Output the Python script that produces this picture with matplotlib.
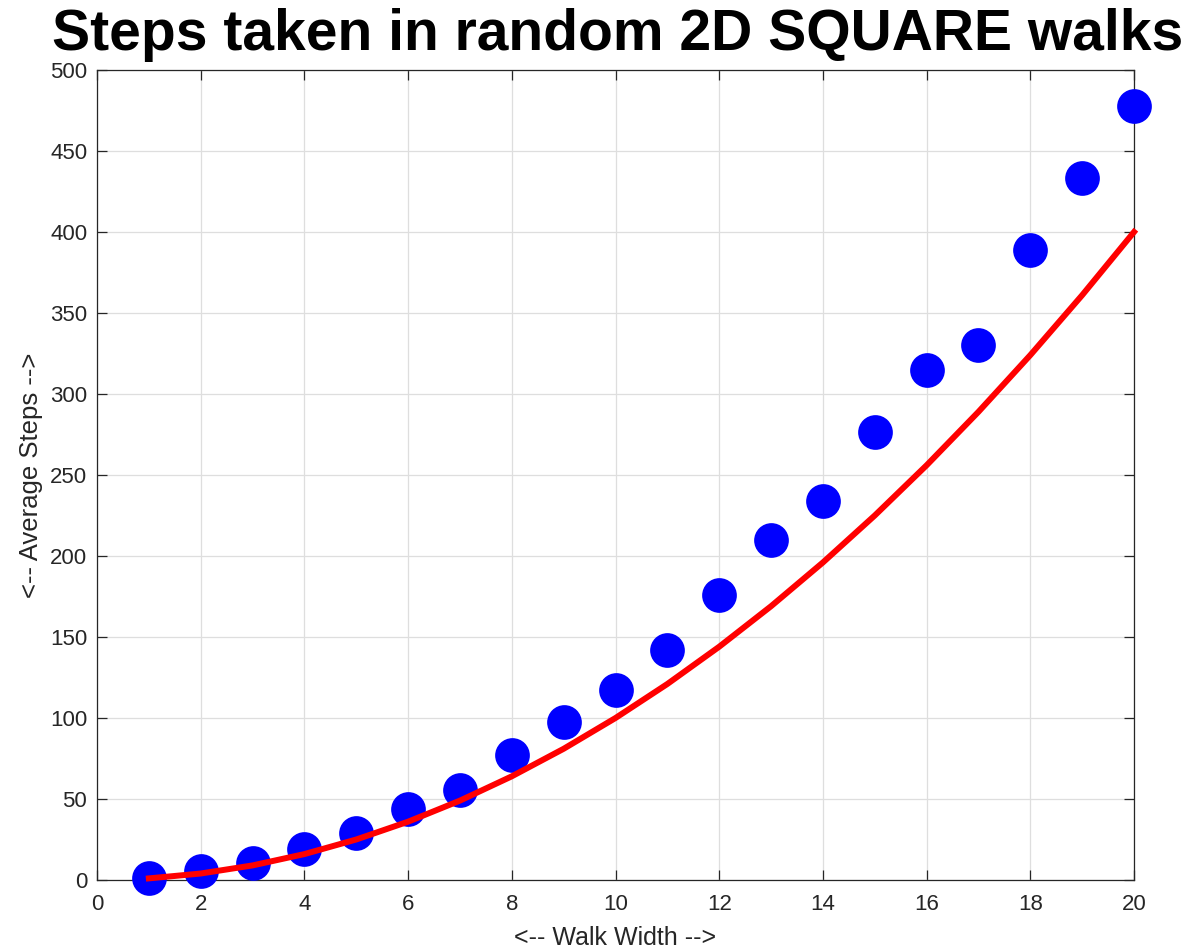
import matplotlib
matplotlib.use("Agg")
import matplotlib.pyplot as plt

widths = [1, 2, 3, 4, 5, 6, 7, 8, 9, 10, 11, 12, 13, 14, 15, 16, 17, 18, 19, 20]
avg_steps = [1.4, 5.3, 10.5, 19.3, 29, 43.8, 55.7, 77, 97.3, 117.3,
             141.8, 175.8, 209.7, 233.9, 276.3, 314.8, 330.5, 389, 433.5, 477.6]
square_ref = [1, 4, 9, 16, 25, 36, 49, 64, 81, 100, 121, 144, 169, 196, 225,
              256, 289, 324, 361, 400]
x_ticks = [0, 2, 4, 6, 8, 10, 12, 14, 16, 18, 20]
y_ticks = [0, 50, 100, 150, 200, 250, 300, 350, 400, 450, 500]

plt.rcParams['font.family'] = ['Liberation Sans', 'DejaVu Sans']

fig = plt.figure(figsize=(11.92, 9.5), dpi=100)
ax = fig.add_axes([97/1192, 1 - 880/950, (1134-97)/1192, (880-70)/950])

ax.plot(widths, avg_steps, 'o', color='#0000ff', markersize=25,
        markeredgewidth=0, clip_on=False, zorder=3)
ax.plot(widths, square_ref, '-', color='#ff0000', linewidth=4.3,
        clip_on=False, zorder=4)

ax.set_xlim(0, 20)
ax.set_ylim(0, 500)
ax.set_xticks(x_ticks)
ax.set_yticks(y_ticks)
ax.grid(True, color='#dedede', linewidth=0.9)
ax.set_axisbelow(True)
ax.tick_params(direction='in', top=True, right=True, length=7, width=0.9,
               labelsize=16, colors='#262626')
ax.tick_params(axis='x', pad=10)
ax.tick_params(axis='y', pad=7)
for s in ax.spines.values():
    s.set_color('#262626')
    s.set_linewidth(0.9)

ax.set_xlabel('<-- Walk Width -->', fontsize=18, color='#262626', labelpad=8)
ax.set_ylabel('<-- Average Steps -->', fontsize=18.5, color='#262626', labelpad=5)
fig.text(618/1192, 1 - 50/950, 'Steps taken in random 2D SQUARE walks',
         ha='center', va='baseline', fontsize=41, fontweight='bold', color='black')

fig.savefig('out.png', dpi=100)
